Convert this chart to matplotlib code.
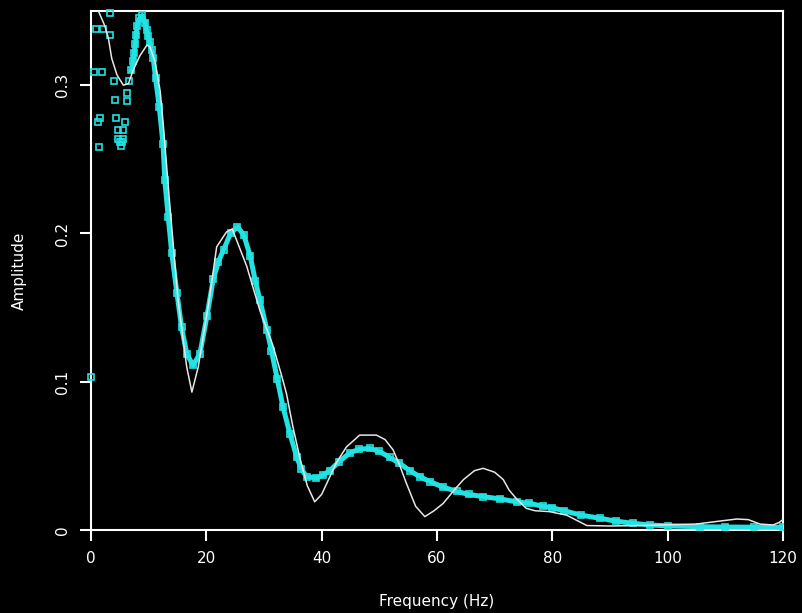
import matplotlib
matplotlib.use("Agg")
from matplotlib import pyplot as plt

# raw amplitude spectrum (thin white trace)
raw_freq = [0.0, 0.7, 1.4, 2.4, 3.0, 3.6, 4.5, 5.6, 6.5, 7.3, 8.5, 9.7, 10.2, 11.1,
            12.0, 12.5, 13.6, 15.1, 16.6, 17.5, 18.6, 20.5, 21.8, 23.5, 24.5, 25.8,
            27.0, 29.3, 31.5, 33.0, 33.9, 35.0, 36.2, 37.5, 38.8, 40.0, 40.9, 42.5,
            44.3, 46.6, 49.5, 51.0, 52.4, 53.5, 54.7, 56.3, 57.9, 59.5, 61.1, 63.0,
            64.6, 66.5, 68.0, 70.0, 71.5, 72.5, 73.8, 75.5, 77.0, 79.5, 82.5, 84.5,
            86.0, 90.0, 95.0, 100.0, 105.0, 109.0, 112.0, 114.0, 116.0, 118.3, 119.3, 120.0]
raw_amp = [0.362, 0.356, 0.349, 0.340, 0.332, 0.318, 0.307, 0.300, 0.301, 0.310, 0.320,
           0.327, 0.326, 0.316, 0.296, 0.275, 0.2225, 0.155, 0.110, 0.093, 0.110, 0.155,
           0.191, 0.201, 0.203, 0.190, 0.178, 0.148, 0.125, 0.105, 0.092, 0.070, 0.049,
           0.030, 0.019, 0.024, 0.0315, 0.045, 0.056, 0.064, 0.064, 0.061, 0.054, 0.044,
           0.0315, 0.016, 0.009, 0.013, 0.018, 0.027, 0.034, 0.040, 0.0416, 0.039, 0.034,
           0.027, 0.021, 0.0146, 0.013, 0.0124, 0.010, 0.006, 0.003, 0.0027, 0.003,
           0.0035, 0.004, 0.006, 0.0074, 0.007, 0.004, 0.0034, 0.005, 0.007]

# smoothed spectrum, low-frequency samples (scattered squares)
lo_freq = [0.0, 0.6, 0.8, 1.3, 1.4, 1.6, 1.85, 2.1, 3.3, 3.3, 4.0, 4.2, 4.3, 4.7, 4.7,
           5.1, 5.2, 5.3, 5.6, 5.6, 5.9, 6.2, 6.3, 6.6]
lo_amp = [0.103, 0.309, 0.338, 0.275, 0.258, 0.278, 0.309, 0.338, 0.349, 0.334, 0.303,
          0.290, 0.278, 0.270, 0.264, 0.262, 0.259, 0.262, 0.264, 0.270, 0.275, 0.289,
          0.295, 0.303]

# smoothed spectrum, remaining samples
sm_freq = [7.0, 7.3, 7.5, 7.7, 7.85, 8.0, 8.4, 8.9, 9.4, 9.65, 9.9, 10.2, 10.5, 10.8,
           11.2, 11.85, 12.5, 12.8, 13.4, 14.0, 14.9, 15.7, 16.6, 17.7, 18.9, 20.1,
           21.2, 22.1, 23.0, 24.2, 25.4, 26.5, 27.6, 28.5, 29.3, 30.5, 31.3, 32.3,
           33.3, 34.5, 35.7, 36.5, 37.4, 39.1, 40.2, 41.4, 43.0, 44.9, 46.5, 48.4,
           50.0, 51.8, 53.5, 55.3, 57.0, 58.8, 61.0, 63.4, 65.5, 68.0, 70.9, 73.8,
           76.0, 78.4, 80.0, 82.0, 85.0, 88.3, 91.0, 94.0, 96.9, 100.0, 105.6, 110.0,
           115.0, 120.0]
sm_amp = [0.310, 0.316, 0.322, 0.328, 0.334, 0.340, 0.345, 0.347, 0.342, 0.337, 0.333,
          0.329, 0.324, 0.318, 0.305, 0.285, 0.260, 0.236, 0.211, 0.187, 0.160, 0.137,
          0.119, 0.111, 0.119, 0.144, 0.169, 0.181, 0.189, 0.200, 0.2045, 0.199, 0.185,
          0.168, 0.155, 0.135, 0.121, 0.102, 0.083, 0.065, 0.049, 0.041, 0.036, 0.035,
          0.037, 0.040, 0.046, 0.052, 0.0545, 0.055, 0.053, 0.049, 0.045, 0.040, 0.036,
          0.0326, 0.029, 0.026, 0.024, 0.0225, 0.021, 0.019, 0.018, 0.016, 0.015, 0.013,
          0.010, 0.0079, 0.006, 0.0045, 0.0034, 0.0028, 0.0022, 0.002, 0.0019, 0.0018]

x_ticks = [0, 20, 40, 60, 80, 100, 120]
y_ticks = [0, 0.1, 0.2, 0.3]
y_tick_labels = ["0", "0.1", "0.2", "0.3"]

cyan = "#22e2e2"
fg = "white"

fig = plt.figure(figsize=(8.03, 6.13), dpi=100, facecolor="black")
ax = fig.add_axes([0.1133, 0.1354, 0.8617, 0.8466], facecolor="black")

ax.plot(raw_freq, raw_amp, color="#e6e6e6", lw=1.1, zorder=4)
ax.plot(lo_freq, lo_amp, ls="none", marker="s", ms=4, mfc="none", mec=cyan,
        mew=1.2, zorder=3, clip_on=False)
ax.plot(sm_freq, sm_amp, color=cyan, lw=3.6, marker="s", ms=4, mfc="none",
        mec=cyan, mew=1.2, zorder=3)

ax.set_xlim(0, 120)
ax.set_ylim(0, 0.35)
ax.set_xticks(x_ticks)
ax.set_yticks(y_ticks)
ax.set_yticklabels(y_tick_labels, rotation=90, va="center")

for s in ax.spines.values():
    s.set_color(fg)
    s.set_linewidth(1.5)
ax.tick_params(colors=fg, length=8, width=1.5, labelsize=11, pad=7)

ax.set_xlabel("Frequency (Hz)", color=fg, fontsize=11, labelpad=20)
ax.set_ylabel("Amplitude", color=fg, fontsize=11, labelpad=20)

fig.savefig("out.png", dpi=100, facecolor="black")
